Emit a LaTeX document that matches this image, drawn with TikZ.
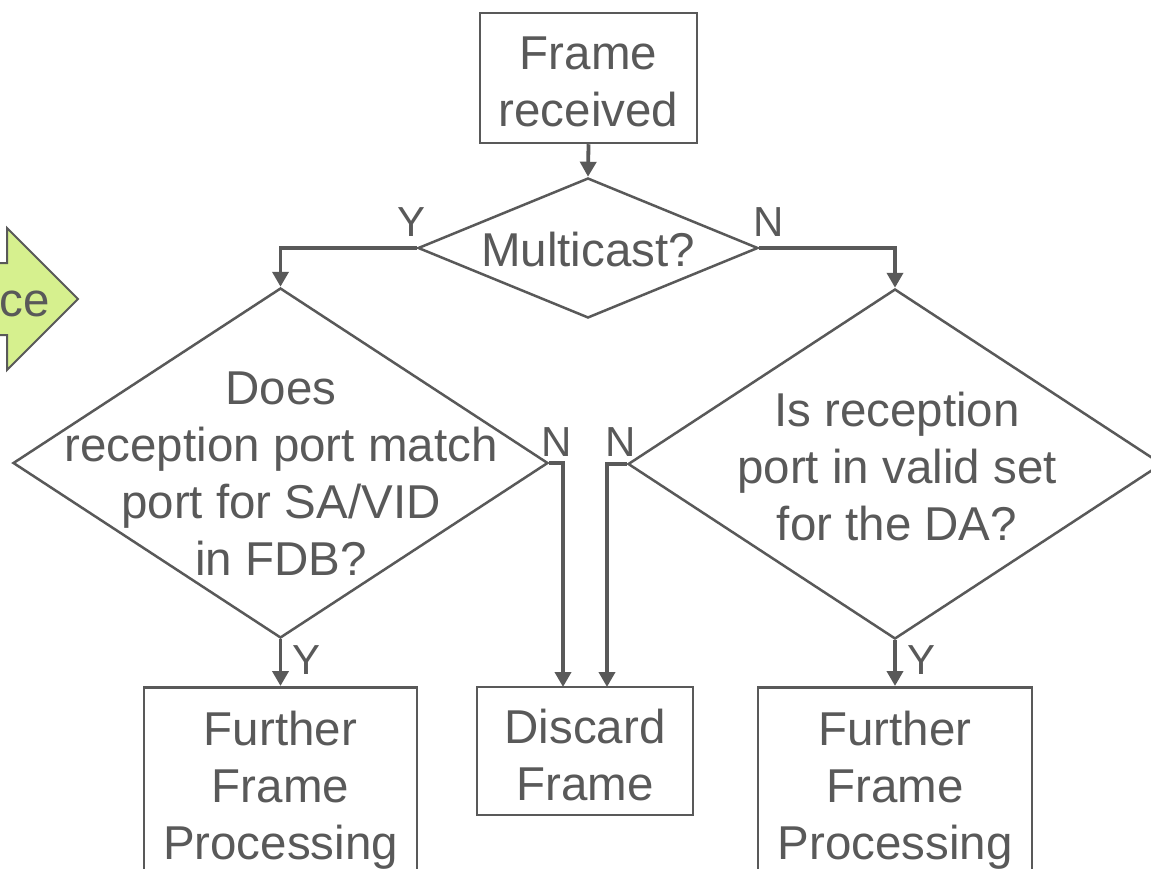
\documentclass[tikz,border=0pt]{standalone}
\usepackage{fontspec}
\setmainfont{Liberation Sans}
\usetikzlibrary{shapes.geometric,arrows.meta}
\definecolor{dg}{RGB}{89,89,89}
\definecolor{lgreen}{RGB}{214,240,142}
\begin{document}
\begin{tikzpicture}[x=1pt,y=-1pt,
  box/.style={draw=dg,line width=2.5pt,rectangle,inner sep=0pt},
  dec/.style={draw=dg,line width=2.5pt,diamond,inner sep=0pt},
  txt/.style={text=dg,align=center,font=\fontsize{47.5}{57}\selectfont,inner sep=0pt},
  lbl/.style={text=dg,font=\fontsize{42}{48}\selectfont,inner sep=0pt},
  conn/.style={draw=dg,line width=3.8pt,-{Triangle[width=16pt,length=15pt]}},
]
\useasboundingbox (0,0) rectangle (1151,869);
\clip (0,0) rectangle (1151,869);
\fill[white] (0,0) rectangle (1151,869);

% source arrow (cut off at left)
\draw[draw=dg,fill=lgreen,line width=2pt] (-10,263) -- (7,263) -- (7,228) -- (78,299) -- (7,370) -- (7,335) -- (-10,335) -- cycle;
\node[txt,anchor=east] (src) at (50,304) {ce};

\node[box,minimum width=217pt,minimum height=130pt] (fr) at (588.5,78) {};
\node[txt] (frt) at (588.5,82) {Frame\\received};

\node[dec,minimum width=340pt,minimum height=140pt] (mc) at (588,248) {};
\node[txt] (mct) at (588,250) {Multicast?};

\node[dec,minimum width=535pt,minimum height=350pt] (d1) at (280.5,463) {};
\node[txt] (d1t) at (281,474) {Does\\reception port match\\port for SA/VID\\in FDB?};

\node[dec,minimum width=534pt,minimum height=350pt] (d2) at (895,464) {};
\node[txt] (d2t) at (897,467) {Is reception\\port in valid set\\for the DA?};

\node[box,minimum width=273pt,minimum height=240pt,anchor=north] (f1) at (280.5,686) {};
\node[txt] (f1t) at (280.5,790) {Further\\Frame\\Processing};

\node[box,minimum width=216pt,minimum height=128pt] (dis) at (585,751) {};
\node[txt] (dist) at (585,755) {Discard\\Frame};

\node[box,minimum width=274pt,minimum height=240pt,anchor=north] (f2) at (895,686) {};
\node[txt] (f2t) at (895,790) {Further\\Frame\\Processing};

\coordinate (dn1) at (563,687);
\coordinate (dn2) at (607,687);

\draw[conn] (fr.south) -- (mc.north);
\draw[conn] (mc.west) -| (d1.north);
\draw[conn] (mc.east) -| (d2.north);
\draw[conn] (d1.east) -| (dn1);
\draw[conn] (d2.west) -| (dn2);
\draw[conn] (d1.south) -- (f1.north);
\draw[conn] (d2.south) -- (f2.north);

\node[lbl] (y1) at (412,222) {Y};
\node[lbl] (n1) at (769,222) {N};
\node[lbl] (n2) at (557,442) {N};
\node[lbl] (n3) at (621,442) {N};
\node[lbl] (y2) at (307,660) {Y};
\node[lbl] (y3) at (921,660) {Y};
\end{tikzpicture}
\end{document}
